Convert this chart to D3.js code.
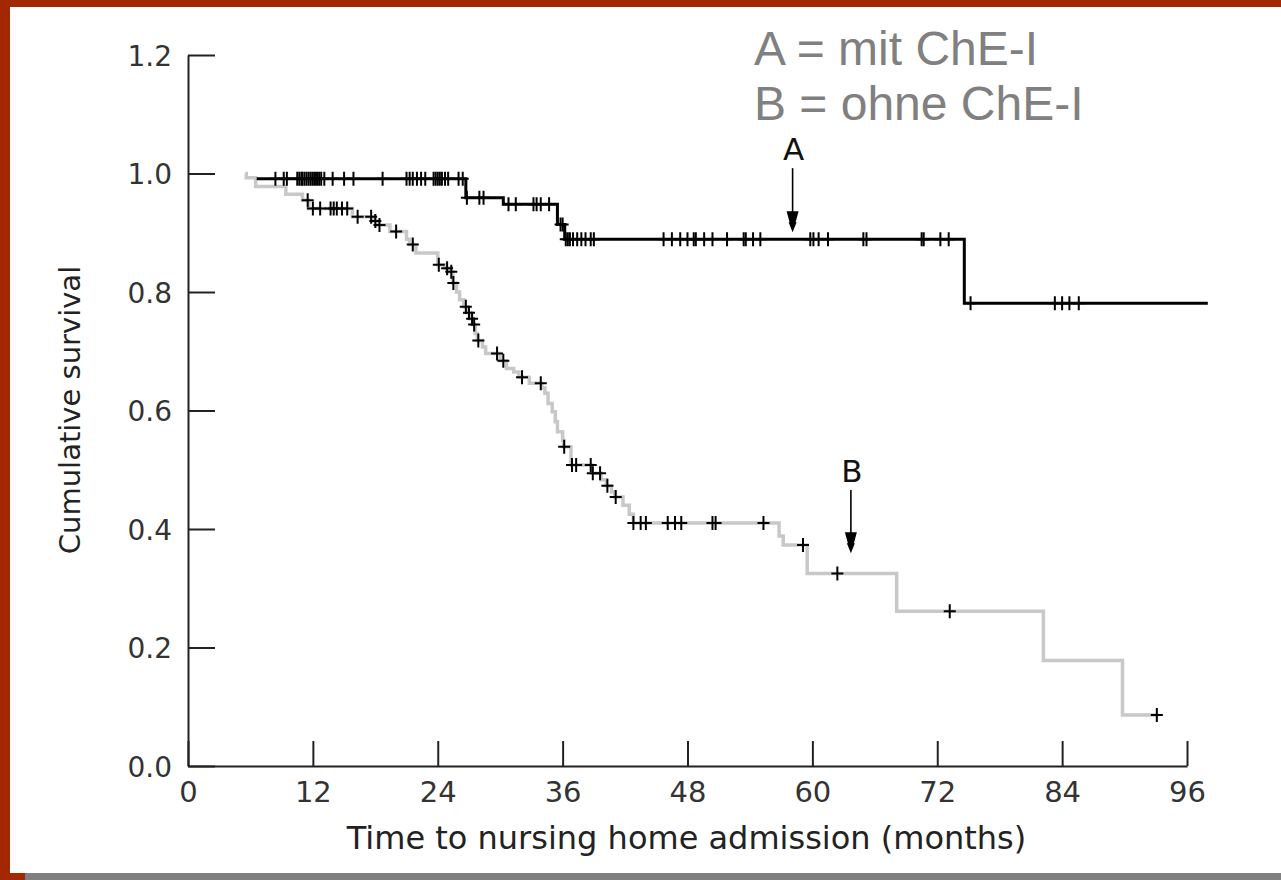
<!DOCTYPE html>
<html>
<head>
<meta charset="utf-8">
<script src="https://cdn.jsdelivr.net/npm/d3@7"></script>
<style>
  html, body { margin: 0; padding: 0; background: #fff; }
  svg { display: block; }
</style>
</head>
<body>
<svg id="chart" width="1281" height="880"></svg>
<script>
// ---------------- DATA ----------------
const xTickValues = [0, 12, 24, 36, 48, 60, 72, 84, 96];
const yTickValues = [0, 0.2, 0.4, 0.6, 0.8, 1.0, 1.2];
const yTickLabels = ["0.0", "0.2", "0.4", "0.6", "0.8", "1.0", "1.2"];

const xTitle = "Time to nursing home admission (months)";
const yTitle = "Cumulative survival";
const legendLines = ["A = mit ChE-I", "B = ohne ChE-I"];

// Group A (mit ChE-I): step times (months) and survival after each step
const aStepTimes = [6.6, 26.7, 30.3, 35.5, 36.2, 74.6];
const aStepSurv  = [0.991, 0.959, 0.948, 0.914, 0.889, 0.781];
const aEndTime = 98;
const aCensorTimes = [
  8.4, 9.2, 9.5, 10.5, 10.7, 10.9, 11.0, 11.2, 11.4, 11.6, 11.8, 12.0, 12.2, 12.4, 12.6, 12.8,
  13.1, 13.9, 15.0, 15.9, 18.7, 21.0, 21.3, 21.6, 22.0, 22.4, 22.8, 23.6, 23.8, 24.0, 24.2,
  24.4, 24.7, 25.0, 26.0, 26.4,
  26.8, 28.0, 28.4,
  30.8, 31.5, 33.2, 33.5, 33.9, 34.7,
  35.8, 36.0,
  36.3, 36.5, 36.7, 37.0, 37.4, 37.8, 38.2, 38.7, 39.0, 45.7, 46.5, 47.3, 48.0, 48.6, 48.8,
  49.6, 50.4, 51.8, 53.4, 53.6, 54.3, 55.0, 59.8, 60.1, 60.6, 61.5, 64.9, 65.2, 70.5, 70.7,
  72.3, 73.1,
  75.2, 83.3, 84.0, 84.7, 85.6
];

// Group B (ohne ChE-I)
const bStepTimes = [5.5, 5.6, 6.5, 9.4, 11.0, 11.6, 15.8, 17.8, 18.2, 19.4, 21.0, 21.3, 21.9,
  24.0, 24.7, 25.1, 25.45, 25.8, 26.1, 26.5, 26.8, 27.1, 27.4, 27.6, 27.8, 28.3, 28.6, 30.0,
  30.6, 31.3, 31.8, 32.8, 34.0, 34.3, 34.6, 35.0, 35.3, 35.5, 36.0, 36.1, 36.8, 38.8, 39.7,
  40.2, 40.7, 41.0, 41.8, 42.4, 42.8, 56.8, 57.2, 59.5, 68.1, 82.2, 89.8];
const bStepSurv  = [1.0, 0.993, 0.978, 0.965, 0.955, 0.941, 0.927, 0.920, 0.913, 0.902, 0.889, 0.880, 0.866,
  0.846, 0.840, 0.834, 0.815, 0.800, 0.787, 0.775, 0.765, 0.755, 0.745, 0.730, 0.718, 0.707, 0.696, 0.684,
  0.671, 0.665, 0.656, 0.646, 0.638, 0.629, 0.612, 0.598, 0.581, 0.564, 0.550, 0.539, 0.508, 0.494, 0.483,
  0.473, 0.463, 0.454, 0.440, 0.425, 0.410, 0.388, 0.373, 0.325, 0.261, 0.178, 0.086];
const bEndTime = 93.2;
const bCensorTimes = [11.5, 12.0, 12.7, 13.7, 14.0, 14.3, 14.8, 15.3, 16.3, 17.6, 18.0, 18.4, 20.0,
  21.6, 24.1, 24.9, 25.3, 25.5, 26.7, 27.0, 27.3, 27.5, 27.9, 29.7, 30.3, 32.1, 33.9, 36.15, 36.9,
  37.3, 38.7, 38.9, 39.6, 40.3, 41.1, 42.8, 43.5, 44.0, 46.1, 46.8, 47.4, 50.4, 50.7, 55.3,
  59.1, 62.4, 73.2, 93.1];

// Annotation arrows: [label, month, top value, tip value]
const arrowLabels = ["A", "B"];
const arrowMonths = [58.1, 63.7];
const arrowTops   = [1.009, 0.466];
const arrowTips   = [0.901, 0.359];

// ---------------- DRAWING ----------------
const svg = d3.select("#chart");
const W = 1281, H = 880;

// frame
svg.append("rect").attr("x", 0).attr("y", 0).attr("width", W).attr("height", H).attr("fill", "#A12800");
svg.append("rect").attr("x", 10).attr("y", 7).attr("width", W - 10).attr("height", 866).attr("fill", "#ffffff");
svg.append("rect").attr("x", 25).attr("y", 873).attr("width", W - 25).attr("height", 7).attr("fill", "#808080");

const x = d3.scaleLinear().domain([0, 96]).range([188, 1187]);
const y = d3.scaleLinear().domain([0, 1.2]).range([766, 55]);

const axisFont = "'DejaVu Sans', sans-serif";

// Y axis
const yAxis = d3.axisLeft(y)
  .tickValues(yTickValues)
  .tickFormat((d, i) => yTickLabels[i])
  .tickSizeInner(-27).tickSizeOuter(0).tickPadding(16);
const gy = svg.append("g").attr("transform", `translate(${x(0)},0)`).call(yAxis);
gy.select(".domain").attr("stroke", "#222").attr("stroke-width", 2);
gy.selectAll(".tick line").attr("stroke", "#222").attr("stroke-width", 2);
gy.selectAll(".tick text").attr("font-family", axisFont).attr("font-size", 28).attr("fill", "#333")
  .attr("dy", "0.36em");

// X axis
const xAxis = d3.axisBottom(x)
  .tickValues(xTickValues)
  .tickFormat(d3.format("d"))
  .tickSizeInner(-25).tickSizeOuter(0).tickPadding(15);
const gx = svg.append("g").attr("transform", `translate(0,${y(0)})`).call(xAxis);
gx.select(".domain").attr("stroke", "#222").attr("stroke-width", 2);
gx.selectAll(".tick line").attr("stroke", "#222").attr("stroke-width", 2);
gx.selectAll(".tick text").attr("font-family", axisFont).attr("font-size", 29).attr("fill", "#333");

// axis titles
svg.append("text")
  .attr("x", (x(0) + x(96)) / 2 - 1).attr("y", 849)
  .attr("text-anchor", "middle")
  .attr("font-family", axisFont).attr("font-size", 32).attr("fill", "#222")
  .text(xTitle);
svg.append("text")
  .attr("transform", `translate(80,${410}) rotate(-90)`)
  .attr("text-anchor", "middle")
  .attr("font-family", axisFont).attr("font-size", 29).attr("fill", "#222")
  .text(yTitle);

// step curves
function stepPoints(times, surv, endT) {
  const pts = times.map((t, i) => [t, surv[i]]);
  pts.push([endT, surv[surv.length - 1]]);
  return pts;
}
function levelAt(times, surv, t) {
  const i = d3.bisectRight(times, t) - 1;
  return surv[Math.max(0, i)];
}
const stepLine = d3.line().x(d => x(d[0])).y(d => y(d[1])).curve(d3.curveStepAfter);

svg.append("path")
  .datum(stepPoints(bStepTimes, bStepSurv, bEndTime))
  .attr("d", stepLine)
  .attr("fill", "none").attr("stroke", "#c8c8c8").attr("stroke-width", 3.5);

svg.append("path")
  .datum(stepPoints(aStepTimes, aStepSurv, aEndTime))
  .attr("d", stepLine)
  .attr("fill", "none").attr("stroke", "#000").attr("stroke-width", 3);

// censor marks
function drawCensors(times, stepT, stepS) {
  const g = svg.append("g");
  times.forEach(t => {
    const cx = x(t), cy = y(levelAt(stepT, stepS, t));
    g.append("path")
      .attr("d", `M${cx - 6},${cy}H${cx + 6}M${cx},${cy - 7}V${cy + 7}`)
      .attr("stroke", "#000").attr("stroke-width", 2).attr("fill", "none");
  });
}
drawCensors(aCensorTimes, aStepTimes, aStepSurv);
drawCensors(bCensorTimes, bStepTimes, bStepSurv);

// annotation arrows
arrowLabels.forEach((lab, i) => {
  const ax = x(arrowMonths[i]);
  const yTop = y(arrowTops[i]);
  const yTip = y(arrowTips[i]);
  svg.append("text")
    .attr("x", ax + 1).attr("y", yTop - 8)
    .attr("text-anchor", "middle")
    .attr("font-family", axisFont).attr("font-size", 31).attr("fill", "#111")
    .text(lab);
  svg.append("line")
    .attr("x1", ax).attr("x2", ax).attr("y1", yTop).attr("y2", yTip - 10)
    .attr("stroke", "#000").attr("stroke-width", 1.6);
  svg.append("path")
    .attr("d", `M${ax - 6},${yTip - 21}L${ax + 6},${yTip - 21}L${ax + 3},${yTip - 10}L${ax + 4},${yTip - 10}L${ax},${yTip}L${ax - 4},${yTip - 10}L${ax - 3},${yTip - 10}Z`)
    .attr("fill", "#000");
});

// legend text
legendLines.forEach((t, i) => {
  svg.append("text")
    .attr("x", 754).attr("y", 65 + i * 55)
    .attr("font-family", "'Liberation Sans', Arial, sans-serif")
    .attr("font-size", 48).attr("fill", "#808080")
    .text(t);
});
</script>
</body>
</html>
